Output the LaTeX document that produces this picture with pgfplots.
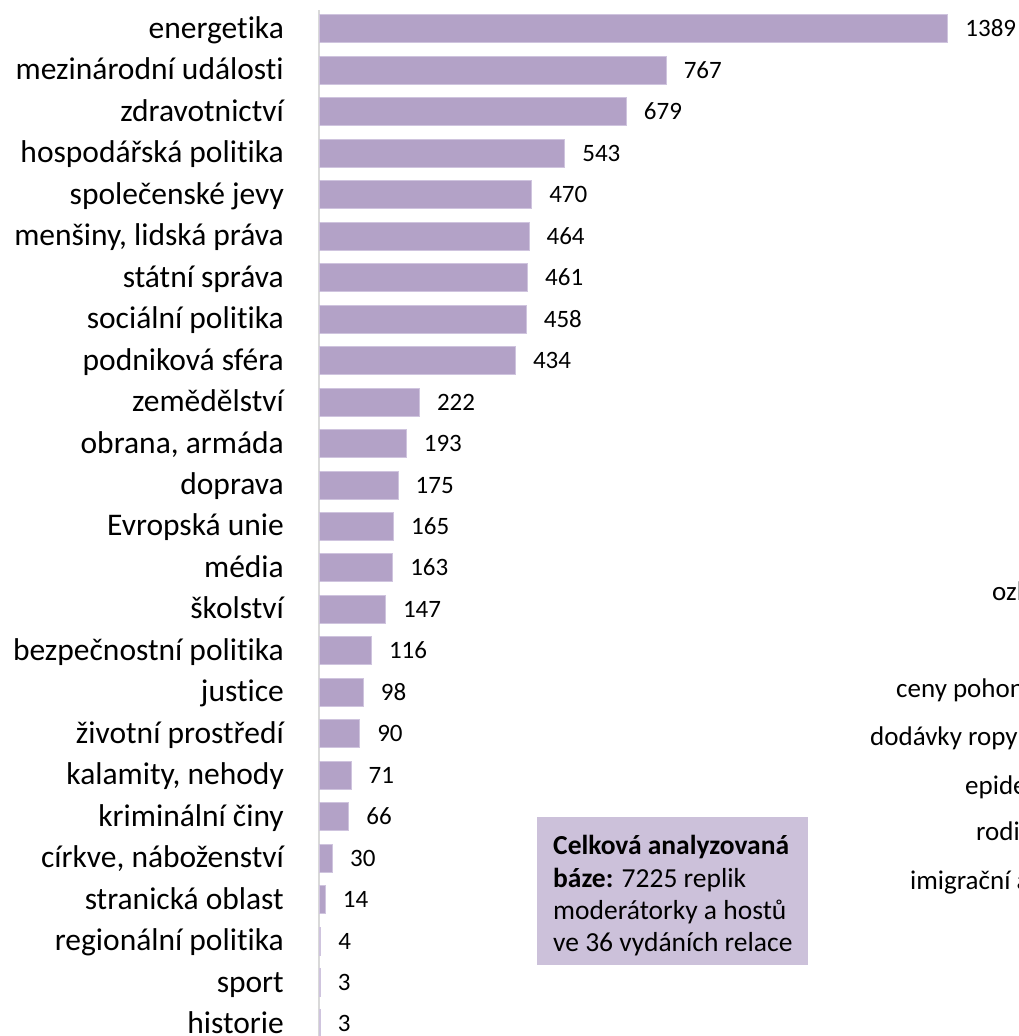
\documentclass[border=0pt]{standalone}
\usepackage{pgfplots}
\pgfplotsset{compat=1.18}
\usepackage{fontspec}
\setmainfont{Carlito}[Ligatures={NoCommon,NoContextual}]
\definecolor{barc}{HTML}{B3A2C7}
\definecolor{barb}{HTML}{CFC4DE}
\definecolor{boxc}{HTML}{CCC1DA}
\definecolor{axc}{HTML}{D9D9D9}
\begin{document}
\begin{tikzpicture}[x=1bp,y=1bp]
\begin{axis}[
 at={(319bp,0bp)}, anchor=south west,
 scale only axis, width=700bp, height=1026bp,
 xmin=0, xmax=1546, ymin=-0.29, ymax=24.458,
 xbar, bar width=28bp,
 hide x axis,
 axis y line*=left,
 y axis line style={draw=axc, line width=2.5bp},
 ytick={0,...,24},
 yticklabels={historie, sport, regionální politika, stranická oblast, {církve, náboženství}, kriminální činy, {kalamity, nehody}, životní prostředí, justice, bezpečnostní politika, školství, média, Evropská unie, doprava, {obrana, armáda}, zemědělství, podniková sféra, sociální politika, státní správa, {menšiny, lidská práva}, společenské jevy, hospodářská politika, zdravotnictví, mezinárodní události, energetika},
 major tick length=0,
 yticklabel style={font=\fontsize{31.5bp}{36bp}\selectfont, anchor=base east, inner sep=0pt, xshift=-35bp, yshift=-9.5bp},
 /pgf/number format/1000 sep={},
 /pgf/number format/assume math mode=true,
 point meta=x,
 nodes near coords,
 nodes near coords style={font=\fontsize{25bp}{30bp}\selectfont, anchor=base west, inner sep=0pt, xshift=17bp, yshift=-8bp, black},
 clip=false,
]
\addplot[fill=barc, draw=barb, line width=1bp] coordinates {(3,0) (3,1) (4,2) (14,3) (30,4) (66,5) (71,6) (90,7) (98,8) (116,9) (147,10) (163,11) (165,12) (175,13) (193,14) (222,15) (434,16) (458,17) (461,18) (464,19) (470,20) (543,21) (679,22) (767,23) (1389,24)};
\end{axis}
\fill[boxc] (537,71) rectangle (808,219);
\begin{scope}[every node/.style={anchor=base west, inner sep=0pt, font=\fontsize{27.5bp}{32bp}\selectfont}]
\node at (553,181) {\textbf{Celková analyzovaná}};
\node at (553,148) {\textbf{báze:} 7225 replik};
\node at (553,116) {moderátorky a hostů};
\node at (553,84) {ve 36 vydáních relace};
\end{scope}
\begin{scope}[every node/.style={anchor=base west, inner sep=0pt, font=\fontsize{27bp}{30bp}\selectfont}]
\node at (992,435) {ozl};
\node at (896,338) {ceny pohon};
\node at (870,290) {dodávky ropy};
\node at (965,241) {epide};
\node at (976,195) {rodi};
\node at (910,146) {imigrační a};
\end{scope}
\pgfresetboundingbox
\path[use as bounding box] (0,0) rectangle (1019,1036);
\end{tikzpicture}
\end{document}
